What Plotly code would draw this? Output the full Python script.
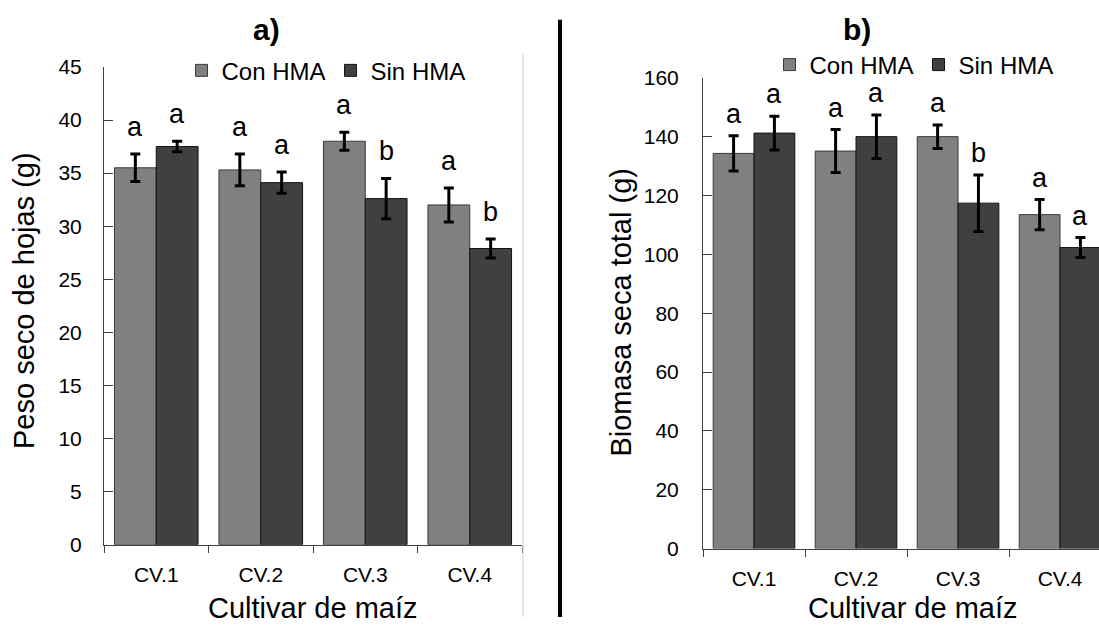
import plotly.graph_objects as go

# ---------------- data ----------------
categories = ["CV.1", "CV.2", "CV.3", "CV.4"]
series_names = ["Con HMA", "Sin HMA"]

# panel a) Peso seco de hojas (g)
a_con = [35.5, 35.3, 38.0, 32.0]
a_con_err = [1.3, 1.5, 0.85, 1.6]
a_sin = [37.5, 34.1, 32.6, 27.9]
a_sin_err = [0.5, 1.0, 1.9, 0.9]
a_con_letters = ["a", "a", "a", "a"]
a_sin_letters = ["a", "a", "b", "b"]

# panel b) Biomasa seca total (g)
b_con = [134.3, 135.1, 140.0, 113.5]
b_con_err = [6.0, 7.3, 4.0, 5.1]
b_sin = [141.2, 140.0, 117.4, 102.3]
b_sin_err = [5.7, 7.4, 9.6, 3.4]
b_con_letters = ["a", "a", "a", "a"]
b_sin_letters = ["a", "a", "b", "a"]

panel_titles = ["a)", "b)"]
y_titles = ["Peso seco de hojas (g)", "Biomasa seca total (g)"]
x_title = "Cultivar de maíz"

# ---------------- style ----------------
FONT = "Arial, 'Liberation Sans', sans-serif"
C_CON = "#808080"
C_SIN = "#404040"
W, H = 1099, 628

def px_x(p):
    return p / W

def px_y(p):
    return 1 - p / H

fig = go.Figure()

def add_bars(xa, ya, con, con_err, sin, sin_err, legend):
    fig.add_trace(go.Bar(
        x=categories, y=con, name=series_names[0], xaxis=xa, yaxis=ya,
        marker=dict(color=C_CON, line=dict(color="#3a3a3a", width=1)),
        error_y=dict(type="data", array=con_err, color="black", thickness=3, width=5),
        legend=legend,
    ))
    fig.add_trace(go.Bar(
        x=categories, y=sin, name=series_names[1], xaxis=xa, yaxis=ya,
        marker=dict(color=C_SIN, line=dict(color="#111111", width=1)),
        error_y=dict(type="data", array=sin_err, color="black", thickness=3, width=5),
        legend=legend,
    ))

add_bars("x", "y", a_con, a_con_err, a_sin, a_sin_err, "legend")
add_bars("x2", "y2", b_con, b_con_err, b_sin, b_sin_err, "legend2")

annotations = []

def add_letters(xref, yref, vals, errs, letters, offset, shift):
    for i, (v, e, t) in enumerate(zip(vals, errs, letters)):
        annotations.append(dict(
            x=i + offset, y=v + e, xref=xref, yref=yref, text=t,
            showarrow=False, yanchor="bottom", xanchor="center", yshift=shift,
            font=dict(family=FONT, size=27, color="black"),
        ))

add_letters("x", "y", a_con, a_con_err, a_con_letters, -0.2, 10)
add_letters("x", "y", a_sin, a_sin_err, a_sin_letters, 0.2, 10)
add_letters("x2", "y2", b_con, b_con_err, b_con_letters, -0.2, 5)
add_letters("x2", "y2", b_sin, b_sin_err, b_sin_letters, 0.2, 5)

# panel titles
for txt, xp in zip(panel_titles, [266, 857]):
    annotations.append(dict(x=px_x(xp), y=px_y(18), xref="paper", yref="paper", text="<b>" + txt + "</b>",
                            showarrow=False, xanchor="center", yanchor="middle",
                            font=dict(family=FONT, size=30, color="black")))

# x titles
for xp in [313, 913]:
    annotations.append(dict(x=px_x(xp), y=px_y(628), xref="paper", yref="paper", text=x_title,
                            showarrow=False, xanchor="center", yanchor="bottom", yshift=-9,
                            font=dict(family=FONT, size=29, color="black")))
# y titles
annotations.append(dict(x=px_x(24), y=px_y(300), xref="paper", yref="paper", text=y_titles[0],
                        showarrow=False, xanchor="center", yanchor="middle", textangle=-90,
                        font=dict(family=FONT, size=29, color="black")))
annotations.append(dict(x=px_x(621), y=px_y(312), xref="paper", yref="paper", text=y_titles[1],
                        showarrow=False, xanchor="center", yanchor="middle", textangle=-90,
                        font=dict(family=FONT, size=29, color="black")))

axis_common_x = dict(
    type="category", showline=True, linecolor="#404040", linewidth=1,
    ticks="outside", tickson="boundaries", ticklen=7, tickcolor="#404040",
    tickfont=dict(family=FONT, size=21, color="black"), showgrid=False, zeroline=False,
    ticklabelstandoff=11,
)
axis_common_y = dict(
    showline=True, linecolor="#404040", linewidth=1,
    ticks="inside", ticklen=9, tickcolor="#404040",
    tickfont=dict(family=FONT, size=21, color="black"), showgrid=False, zeroline=False,
)

fig.update_layout(
    width=W, height=H,
    margin=dict(l=0, r=0, t=0, b=0),
    paper_bgcolor="white", plot_bgcolor="white",
    barmode="group", bargap=0.2, bargroupgap=0,
    font=dict(family=FONT, color="black"),
    xaxis=dict(domain=[px_x(104), px_x(522)], anchor="y", range=[-0.5, 3.5], **axis_common_x),
    yaxis=dict(domain=[px_y(553), px_y(57)], anchor="x", range=[0, 45], dtick=5,
               ticklabelstandoff=17, **axis_common_y),
    xaxis2=dict(domain=[px_x(703), 1.0], anchor="y2", range=[-0.5, 3.382], **axis_common_x),
    yaxis2=dict(domain=[px_y(557), px_y(68.3)], anchor="x2", range=[0, 160], dtick=20,
                ticklabelstandoff=19, **axis_common_y),
    legend=dict(orientation="h", x=px_x(326), y=px_y(61), xanchor="center", yanchor="middle",
                font=dict(family=FONT, size=24, color="black"), bgcolor="rgba(0,0,0,0)",
                itemwidth=30, tracegroupgap=0),
    legend2=dict(orientation="h", x=px_x(914), y=px_y(55), xanchor="center", yanchor="middle",
                 font=dict(family=FONT, size=24, color="black"), bgcolor="rgba(0,0,0,0)",
                 itemwidth=30, tracegroupgap=0),
    annotations=annotations,
    shapes=[
        dict(type="line", xref="paper", yref="paper", x0=px_x(523), x1=px_x(523),
             y0=px_y(44), y1=0, line=dict(color="#d0d0d0", width=1)),
        dict(type="line", xref="paper", yref="paper", x0=px_x(560), x1=px_x(560),
             y0=px_y(8), y1=0, line=dict(color="black", width=4)),
    ],
)

fig.write_html("out.html")
